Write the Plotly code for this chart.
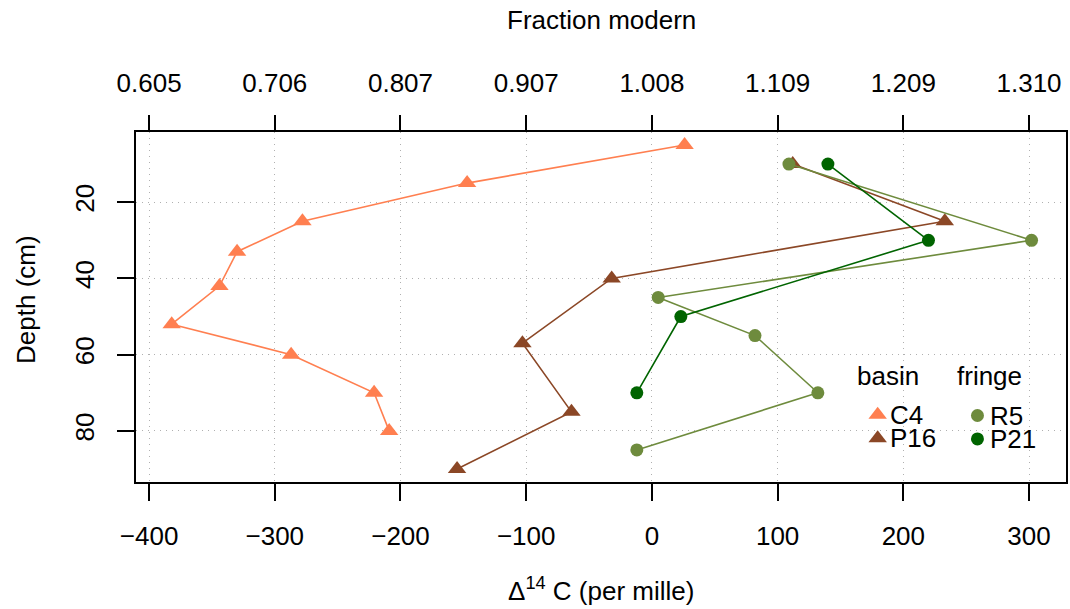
import plotly.graph_objects as go

# ---- data ----
c4_delta = [26, -147, -278, -330, -344, -382, -287, -221, -209]
c4_depth = [5, 15, 25, 33, 42, 52, 60, 70, 80]
p16_delta = [112, 233, -32, -103, -64, -155]
p16_depth = [10, 25, 40, 57, 75, 90]
r5_delta = [109, 302, 5, 82, 132, -12]
r5_depth = [10, 30, 45, 55, 70, 85]
p21_delta = [140, 220, 23, -12]
p21_depth = [10, 30, 50, 70]

x_ticks = [-400, -300, -200, -100, 0, 100, 200, 300]
x_tick_labels = ["\u2212400", "\u2212300", "\u2212200", "\u2212100", "0", "100", "200", "300"]
fm_tick_labels = ["0.605", "0.706", "0.807", "0.907", "1.008", "1.109", "1.209", "1.310"]
y_ticks = [20, 40, 60, 80]

C_C4 = "#FF7F50"
C_P16 = "#8B4726"
C_R5 = "#6E8B3D"
C_P21 = "#006400"

FONT = "Liberation Sans, Arial, sans-serif"
FS = 26

TRI = 16
CIRC = 13

series = [
    ("C4", c4_delta, c4_depth, C_C4, "triangle-up", TRI),
    ("P16", p16_delta, p16_depth, C_P16, "triangle-up", TRI),
    ("R5", r5_delta, r5_depth, C_R5, "circle", CIRC),
    ("P21", p21_delta, p21_depth, C_P21, "circle", CIRC),
]

fig = go.Figure()
for name, xs, ys, col, sym, sz in series:
    fig.add_trace(go.Scatter(
        x=xs, y=ys, mode="lines+markers", name=name,
        line=dict(color=col, width=1.6),
        marker=dict(color=col, symbol=sym, size=sz, opacity=1, line=dict(width=0)),
        showlegend=False,
    ))

# legend markers on an overlay axis spanning the plot area (0..1)
leg_x = [0.7975, 0.7975, 0.9048, 0.9048]
leg_y = [0.192, 0.125, 0.190, 0.123]
leg_cols = [C_C4, C_P16, C_R5, C_P21]
leg_syms = ["triangle-up", "triangle-up", "circle", "circle"]
leg_sizes = [TRI, TRI, CIRC, CIRC]
leg_names = ["C4", "P16", "R5", "P21"]
fig.add_trace(go.Scatter(
    x=leg_x, y=leg_y, mode="markers", xaxis="x3", yaxis="y3",
    marker=dict(color=leg_cols, symbol=leg_syms, size=leg_sizes, opacity=1,
                line=dict(width=0)),
    showlegend=False, hoverinfo="skip",
))

x_range = [-410.4, 329.4]
y_range = [93.4, 1.6]

axis_common = dict(
    showline=True, linecolor="black", linewidth=1.5,
    ticks="outside", tickcolor="black", tickwidth=1.5, ticklen=17,
    tickfont=dict(family=FONT, size=FS, color="black"),
    showgrid=True, gridcolor="#b0b0b0", griddash="1px,5px", gridwidth=1.2,
    zeroline=False, ticklabelstandoff=13,
)

fig.update_layout(
    width=1070, height=609,
    margin=dict(l=136, r=2, t=132, b=127),
    plot_bgcolor="white", paper_bgcolor="white",
    font=dict(family=FONT, size=FS, color="black"),
    xaxis=dict(range=x_range, tickvals=x_ticks, ticktext=x_tick_labels,
               mirror=True, **axis_common),
    yaxis=dict(range=y_range, tickvals=y_ticks, tickangle=-90,
               mirror=True, **axis_common),
    xaxis2=dict(range=x_range, overlaying="x", side="top",
                tickvals=x_ticks, ticktext=fm_tick_labels,
                showline=False, ticks="outside", tickcolor="black",
                tickwidth=1.5, ticklen=16, ticklabelstandoff=13,
                tickfont=dict(family=FONT, size=FS, color="black"),
                showgrid=False, zeroline=False),
    xaxis3=dict(range=[0, 1], overlaying="x", visible=False, fixedrange=True),
    yaxis3=dict(range=[0, 1], overlaying="y", visible=False, fixedrange=True),
    showlegend=False,
)

# dummy trace to activate xaxis2
fig.add_trace(go.Scatter(x=[x_range[0]], y=[y_range[0]], xaxis="x2", mode="markers",
                         marker=dict(opacity=0), showlegend=False, hoverinfo="skip"))

ann = []
def txt(x, y, s, xanchor="center", angle=0):
    ann.append(dict(x=x, y=y, xref="paper", yref="paper", text=s, showarrow=False,
                    xanchor=xanchor, yanchor="middle", textangle=angle,
                    font=dict(family=FONT, size=FS, color="black")))

# axis titles
txt(0.5, (482.3 - 20) / 350, "Fraction modern")
txt(0.5, (482.3 - 590) / 350, "\u0394<sup>14</sup> C (per mille)")
txt((25 - 136) / 932, (482.3 - 300) / 350, "Depth (cm)", angle=-90)

# legend text
txt(0.809, 0.3017, "basin")
txt(0.918, 0.3017, "fringe")
for i, nm in enumerate(leg_names):
    txt(leg_x[i] + 0.0115, leg_y[i], nm, xanchor="left")

fig.update_layout(annotations=ann)
fig.write_html("out.html")
